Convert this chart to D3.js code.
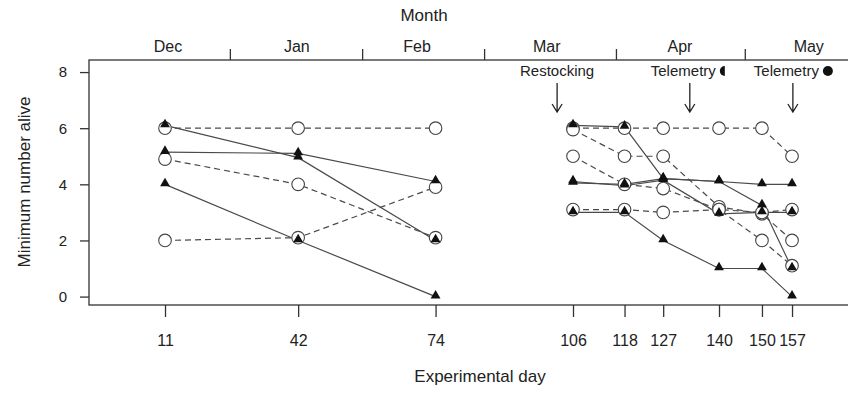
<!DOCTYPE html>
<html>
<head>
<meta charset="utf-8">
<script src="https://cdn.jsdelivr.net/npm/d3@7"></script>
<style>
  body { margin: 0; background: #fff; }
  svg text { font-family: "Liberation Sans", Arial, sans-serif; fill: #222; }
</style>
</head>
<body>
<svg id="drawing_region"></svg>
<script>
// experimental days of each survey
const leftDays = [11, 42, 74];
const rightDays = [106, 118, 127, 140, 150, 157];
const dayTicks = [11, 42, 74, 106, 118, 127, 140, 150, 157];
const yTicks = [0, 2, 4, 6, 8];

// top month axis (in experimental days)
const monthNames = ["Dec", "Jan", "Feb", "Mar", "Apr", "May"];
const monthLabelDays = [11.7, 41.7, 69.7, 99.9, 130.9, 160.9];
const monthBreakDays = [26.1, 56.9, 85.3, 116.0, 146.0];

// events
const eventDays = [102.3, 133.2, 157.2];
const eventLabels = ["Restocking", "Telemetry", "Telemetry"];
const eventMarks = ["none", "half", "full"];

// minimum number alive, one row per enclosure
const leftCircles = [
  [6.0, 6.0, 6.0],
  [4.9, 4.0, 2.1],
  [2.0, 2.1, 3.9]
];
const leftTriangles = [
  [6.1, 4.95, 2.0],
  [5.15, 5.1, 4.1],
  [4.0, 2.0, 0.0]
];
const rightCircles = [
  [6.0, 6.0, 6.0, 6.0, 6.0, 5.0],
  [5.95, 5.0, 5.0, 3.2, 2.95, 2.0],
  [5.0, 4.0, 3.85, 3.1, 2.0, 1.1],
  [3.1, 3.1, 3.0, 3.1, 3.0, 3.1]
];
const rightTriangles = [
  [6.1, 6.05, 4.2, 4.1, 3.25, 1.0],
  [4.1, 3.95, 4.15, 2.95, 3.0, 3.0],
  [3.0, 3.0, 2.0, 1.0, 1.0, 0.0],
  [4.05, 4.0, 4.2, 4.1, 4.0, 4.0]
];

let series = [];
leftCircles.forEach(v => series.push({ days: leftDays, values: v, type: 'circle' }));
rightCircles.forEach(v => series.push({ days: rightDays, values: v, type: 'circle' }));
leftTriangles.forEach(v => series.push({ days: leftDays, values: v, type: 'triangle' }));
rightTriangles.forEach(v => series.push({ days: rightDays, values: v, type: 'triangle' }));

const W = 848, H = 393;
const box = { left: 89, right: 850, top: 60, bottom: 305 };

const svg = d3.select('#drawing_region')
  .attr('width', W)
  .attr('height', H);

const x_scale = d3.scaleLinear().domain([-6.7, 170.5]).range([box.left, box.right]);
const y_scale = d3.scaleLinear().domain([-0.3, 8.43]).range([box.bottom, box.top]);

// frame
svg.append('rect')
  .attr('x', box.left).attr('y', box.top)
  .attr('width', box.right - box.left).attr('height', box.bottom - box.top)
  .attr('fill', 'none').attr('stroke', '#333').attr('stroke-width', 1.3);

// bottom axis
const x_axis = d3.axisBottom(x_scale)
  .tickValues(dayTicks).tickSize(12).tickPadding(18);
svg.append('g')
  .attr('transform', `translate(0, ${box.bottom})`)
  .call(x_axis)
  .call(g => g.select('.domain').remove())
  .call(g => g.selectAll('line').attr('stroke', '#333').attr('stroke-width', 1.3))
  .call(g => g.selectAll('text').attr('font-size', 16).attr('fill', '#222')
    .attr('font-family', '"Liberation Sans", Arial, sans-serif'));

// left axis
const y_axis = d3.axisLeft(y_scale)
  .tickValues(yTicks).tickSize(9).tickPadding(13);
svg.append('g')
  .attr('transform', `translate(${box.left}, 0)`)
  .call(y_axis)
  .call(g => g.select('.domain').remove())
  .call(g => g.selectAll('line').attr('stroke', '#333').attr('stroke-width', 1.3))
  .call(g => g.selectAll('text').attr('font-size', 15).attr('fill', '#222')
    .attr('font-family', '"Liberation Sans", Arial, sans-serif'));

// top month axis
const month_axis = d3.axisTop(x_scale)
  .tickValues(monthBreakDays).tickSize(11).tickFormat('');
svg.append('g')
  .attr('transform', `translate(0, ${box.top})`)
  .call(month_axis)
  .call(g => g.select('.domain').remove())
  .call(g => g.selectAll('line').attr('stroke', '#333').attr('stroke-width', 1.3));

svg.append('g').selectAll('text')
  .data(monthNames)
  .join('text')
  .attr('x', (d, i) => x_scale(monthLabelDays[i]))
  .attr('y', 52)
  .attr('text-anchor', 'middle')
  .attr('font-size', 16)
  .text(d => d);

// titles
svg.append('text')
  .attr('x', 424).attr('y', 21)
  .attr('text-anchor', 'middle').attr('font-size', 17)
  .text('Month');

svg.append('text')
  .attr('x', 480).attr('y', 382)
  .attr('text-anchor', 'middle').attr('font-size', 17)
  .text('Experimental day');

svg.append('text')
  .attr('transform', 'translate(30, 182) rotate(-90)')
  .attr('text-anchor', 'middle').attr('font-size', 17)
  .text('Minimum number alive');

// event labels and arrows
const ev = svg.append('g');
eventDays.forEach((d, i) => {
  const ax = x_scale(d);
  const lab = ev.append('text')
    .attr('y', 76)
    .attr('font-size', 15)
    .text(eventLabels[i]);
  const tw = lab.node().getComputedTextLength();
  const extra = eventMarks[i] === 'none' ? 0 : 13;
  const x0 = ax - (tw + extra) / 2;
  lab.attr('x', x0);
  const mx = x0 + tw + 7, my = 71;
  if (eventMarks[i] === 'half') {
    ev.append('path')
      .attr('d', `M${mx + 2},${my - 5} A5,5 0 0,0 ${mx + 2},${my + 5} Z`)
      .attr('fill', '#111');
  } else if (eventMarks[i] === 'full') {
    ev.append('circle').attr('cx', mx + 2).attr('cy', my).attr('r', 5).attr('fill', '#111');
  }
  ev.append('path')
    .attr('d', `M${ax},83 L${ax},112 M${ax - 5},104 L${ax},112 L${ax + 5},104`)
    .attr('fill', 'none').attr('stroke', '#222').attr('stroke-width', 1.3);
});

// lines
const line = d3.line()
  .x(d => x_scale(d[0]))
  .y(d => y_scale(d[1]));

const plot = svg.append('g');
plot.selectAll('path.series')
  .data(series)
  .join('path')
  .attr('class', 'series')
  .attr('d', s => line(s.days.map((d, i) => [d, s.values[i]])))
  .attr('fill', 'none')
  .attr('stroke', '#4a4a4a')
  .attr('stroke-width', 1.2)
  .attr('stroke-dasharray', s => s.type === 'circle' ? '6,4' : null);

// markers
const pts = [];
series.forEach(s => s.days.forEach((d, i) => pts.push({ day: d, value: s.values[i], type: s.type })));

plot.selectAll('circle.pt')
  .data(pts.filter(p => p.type === 'circle'))
  .join('circle')
  .attr('class', 'pt')
  .attr('cx', p => x_scale(p.day))
  .attr('cy', p => y_scale(p.value))
  .attr('r', 6.3)
  .attr('fill', '#fff')
  .attr('stroke', '#444')
  .attr('stroke-width', 1.1);

const tri = d3.symbol().type(d3.symbolTriangle).size(42);
plot.selectAll('path.tri')
  .data(pts.filter(p => p.type === 'triangle'))
  .join('path')
  .attr('class', 'tri')
  .attr('transform', p => `translate(${x_scale(p.day)}, ${y_scale(p.value) - 1})`)
  .attr('d', tri)
  .attr('fill', '#111');
</script>
</body>
</html>
